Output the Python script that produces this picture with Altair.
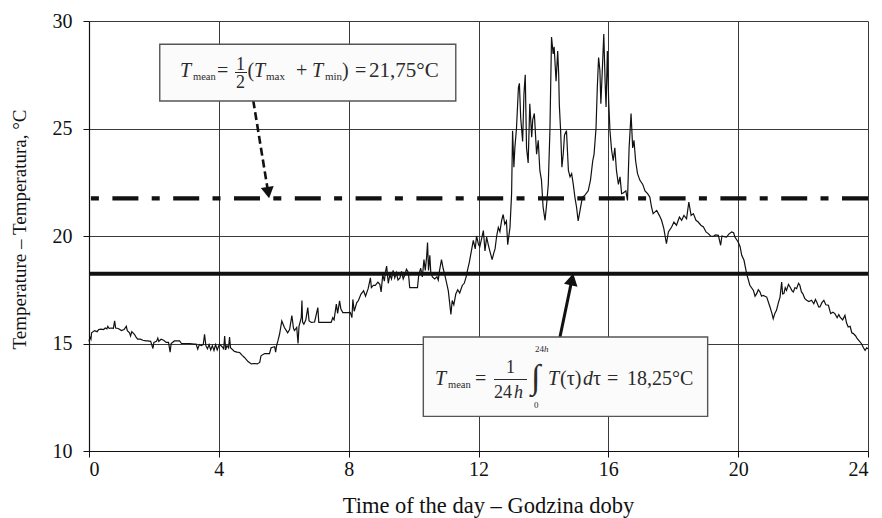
import altair as alt
import pandas as pd

# ---------------- data ----------------
hours = [
    0.00, 0.03, 0.06, 0.08, 0.17, 0.25, 0.30, 0.37, 0.45, 0.50, 0.55, 0.58, 0.62, 0.70, 0.75, 0.79, 0.82, 0.90,
    1.00, 1.08, 1.15, 1.18, 1.25, 1.28, 1.32, 1.40, 1.45, 1.50, 1.58, 1.66, 1.75, 1.81, 1.90, 1.97,
    2.00, 2.08, 2.12, 2.15, 2.22, 2.30, 2.38, 2.45, 2.50, 2.53, 2.63, 2.79, 2.85, 2.99,
    3.10, 3.25, 3.30, 3.35, 3.40, 3.46, 3.52, 3.56, 3.60, 3.65, 3.70, 3.75, 3.80, 3.85, 3.90, 3.95,
    4.02, 4.10, 4.15, 4.18, 4.21, 4.25, 4.30, 4.33, 4.36, 4.48, 4.56, 4.64, 4.72, 4.79, 4.90,
    5.00, 5.10, 5.18, 5.26, 5.30, 5.41, 5.56, 5.61, 5.72, 5.75, 5.78, 5.82, 5.87, 5.94,
    6.02, 6.08, 6.12, 6.18, 6.25, 6.30, 6.33, 6.40, 6.44, 6.47, 6.54, 6.56, 6.58, 6.62, 6.68, 6.74, 6.78, 6.85, 6.95,
    7.05, 7.08, 7.15, 7.30, 7.46, 7.51, 7.55, 7.62, 7.66, 7.72, 7.76, 7.82, 7.98,
    8.05, 8.10, 8.13, 8.17, 8.25, 8.30, 8.38, 8.46, 8.52, 8.60, 8.67, 8.70, 8.76, 8.82, 8.90, 8.96,
    9.00, 9.05, 9.10, 9.13, 9.17, 9.22, 9.27, 9.32, 9.37, 9.42, 9.47, 9.52, 9.58, 9.63, 9.68, 9.73, 9.78, 9.84, 9.88,
    10.00, 10.12, 10.16, 10.22, 10.27, 10.32, 10.36, 10.40, 10.43, 10.46, 10.50, 10.53, 10.58, 10.65, 10.72, 10.76,
    10.80, 10.86, 10.91, 10.96,
    11.02, 11.07, 11.11, 11.15, 11.19, 11.24, 11.30, 11.36, 11.42, 11.50, 11.56, 11.62, 11.66, 11.72, 11.78, 11.84,
    11.90, 11.94,
    12.00, 12.04, 12.10, 12.15, 12.20, 12.25, 12.30, 12.35, 12.42, 12.47, 12.51, 12.56, 12.61, 12.66, 12.71, 12.76,
    12.81, 12.86, 12.90, 12.97,
    13.02, 13.05, 13.09, 13.12, 13.17, 13.23, 13.26, 13.30, 13.36, 13.40, 13.44, 13.48, 13.53, 13.58, 13.64, 13.67,
    13.72, 13.79, 13.84, 13.89, 13.94, 13.99,
    14.05, 14.10, 14.15, 14.20, 14.25, 14.30, 14.33, 14.39, 14.44, 14.47, 14.49, 14.53, 14.57, 14.61, 14.65, 14.71,
    14.77, 14.82, 14.87, 14.92, 14.97,
    15.02, 15.07, 15.13, 15.20, 15.28, 15.38, 15.45, 15.52, 15.56, 15.62, 15.66, 15.70, 15.74, 15.77, 15.81, 15.86,
    15.90, 15.93, 15.97,
    16.01, 16.05, 16.10, 16.15, 16.20, 16.25, 16.31, 16.36, 16.41, 16.46, 16.54, 16.59, 16.64, 16.70, 16.75, 16.79,
    16.84, 16.90, 16.97,
    17.06, 17.13, 17.21, 17.28, 17.33, 17.38, 17.49, 17.57, 17.64, 17.71, 17.79, 17.85, 17.95,
    18.02, 18.10, 18.19, 18.26, 18.33, 18.41, 18.48, 18.55, 18.62, 18.70, 18.77, 18.85, 18.93,
    19.01, 19.08, 19.15, 19.23, 19.30, 19.39, 19.46, 19.50, 19.54, 19.64, 19.72, 19.80, 19.86, 19.90,
    20.00, 20.06, 20.11, 20.18, 20.26, 20.36, 20.47, 20.52, 20.57, 20.62, 20.67, 20.72, 20.77, 20.88, 20.98,
    21.04, 21.08, 21.13, 21.18, 21.24, 21.29, 21.34, 21.37, 21.41, 21.45, 21.49, 21.55, 21.60, 21.66, 21.70, 21.75,
    21.80, 21.86, 21.90, 21.95, 21.99,
    22.05, 22.11, 22.18, 22.26, 22.33, 22.38, 22.42, 22.48, 22.52, 22.58, 22.64, 22.70, 22.78, 22.85, 22.92, 22.98,
    23.05, 23.10, 23.14, 23.22, 23.29, 23.34, 23.39, 23.45, 23.50, 23.55, 23.62, 23.67, 23.74, 23.80, 23.86, 23.91,
    23.96, 24.00,
]
temps = [
    15.10, 15.30, 15.20, 15.50, 15.60, 15.55, 15.65, 15.67, 15.65, 15.72, 15.68, 15.80, 15.70, 15.72, 15.70, 16.05, 15.72, 15.70,
    15.60, 15.65, 15.80, 15.60, 15.50, 15.35, 15.55, 15.43, 15.30, 15.20, 15.20, 15.15, 15.12, 15.12, 15.10, 14.77,
    15.05, 15.10, 15.25, 15.10, 15.20, 15.15, 15.05, 15.05, 14.60, 15.00, 15.12, 15.12, 15.00, 15.00,
    15.00, 14.97, 14.97, 14.74, 14.95, 14.90, 14.95, 15.43, 14.90, 14.75, 14.95, 14.70, 14.90, 14.68, 14.95, 14.70,
    14.97, 14.85, 14.75, 15.35, 14.70, 14.90, 14.80, 15.30, 14.80, 14.63, 14.60, 14.58, 14.45, 14.35, 14.16,
    14.05, 14.07, 14.05, 14.12, 14.43, 14.53, 14.53, 14.80, 14.85, 14.60, 14.90, 15.12, 15.43, 16.05,
    15.74, 15.60, 15.50, 15.65, 16.30, 15.70, 15.60, 15.75, 15.00, 15.80, 16.20, 17.00, 16.00, 15.90, 16.10, 16.67, 16.05, 15.98, 16.00,
    16.67, 15.98, 15.98, 15.98, 15.98, 16.20, 16.10, 16.83, 16.40, 16.98, 16.60, 16.44, 16.44,
    16.45, 16.20, 17.05, 16.50, 16.90, 17.00, 17.30, 17.45, 17.20, 17.55, 18.05, 17.60, 17.70, 17.70, 17.85, 17.75,
    17.40, 18.20, 17.90, 18.30, 18.60, 17.80, 18.20, 18.00, 18.40, 18.05, 18.30, 17.95, 18.05, 18.35, 18.00, 18.20, 18.45, 18.30, 17.60,
    17.60, 17.60, 18.20, 18.50, 18.10, 18.90, 18.40, 19.00, 19.70, 18.40, 19.10, 18.30, 18.10, 18.00, 18.10, 17.95,
    18.40, 18.90, 18.50, 18.20,
    17.80, 17.45, 16.90, 16.35, 17.00, 16.80, 17.30, 17.50, 17.35, 17.70, 17.80, 18.10, 18.40, 18.80, 19.30, 19.80,
    19.40, 20.00,
    19.60, 19.50, 19.90, 20.25, 19.30, 19.95, 19.60, 19.30, 18.90, 19.20, 19.40, 20.00, 20.40, 20.20, 20.70, 21.00,
    20.55, 20.70, 19.60, 20.40,
    21.97, 24.90, 23.20, 24.10, 25.00, 26.90, 27.10, 25.50, 24.40, 26.60, 27.50, 24.10, 23.40, 26.15, 24.60, 25.40,
    25.70, 23.80, 24.45, 23.05, 22.60, 21.35,
    20.73, 21.50, 22.40, 24.90, 29.25, 28.47, 28.80, 27.20, 28.60, 27.55, 26.10, 24.90, 23.20, 23.80, 24.70, 24.90,
    23.05, 22.75, 22.90, 22.40, 21.80,
    21.35, 20.70, 21.20, 21.80, 21.90, 22.10, 22.60, 23.50, 23.80, 25.00, 26.90, 28.30, 27.70, 26.15, 27.55, 29.40,
    27.20, 26.00, 28.60,
    26.30, 24.90, 24.00, 23.50, 24.10, 23.05, 22.40, 22.75, 21.97, 22.00, 22.10, 21.65, 24.10, 25.70, 24.10, 24.45,
    23.50, 22.90, 22.60,
    22.40, 22.10, 21.97, 21.80, 21.35, 21.04, 21.19, 20.96, 20.73, 20.34, 19.64, 20.19, 20.42,
    20.65, 20.50, 20.88, 20.73, 20.96, 20.80, 21.58, 20.96, 21.04, 20.73, 20.65, 20.50, 20.42,
    20.19, 20.11, 20.00, 19.98, 20.05, 20.03, 19.57, 20.00, 19.98, 19.95, 20.10, 20.19, 20.15, 19.95,
    19.72, 19.50, 19.10, 18.87, 18.25, 17.71, 17.47, 17.20, 17.32, 17.50, 17.40, 17.20, 17.24, 17.16, 16.70,
    16.40, 16.15, 16.40, 16.54, 16.90, 17.16, 17.86, 17.30, 17.32, 17.60, 17.47, 17.75, 17.63, 17.45, 17.40, 17.60,
    17.55, 17.80, 17.71, 17.40, 17.32,
    17.10, 17.01, 16.95, 17.01, 16.85, 17.05, 16.93, 16.70, 16.70, 16.90, 17.01, 16.80, 16.78, 16.39, 16.45, 16.39,
    16.20, 16.35, 16.23, 16.10, 16.31, 15.95, 15.77, 15.80, 15.50, 15.46, 15.35, 15.22, 15.10, 14.99, 14.80, 14.68,
    14.80, 14.76,
]

t_mean_half = 21.75      # 1/2 (Tmax + Tmin)
t_mean_integral = 18.25  # time-averaged

x_ticks = [0, 4, 8, 12, 16, 20, 24]
y_ticks = [10, 15, 20, 25, 30]

# annotation geometry (data coordinates)
box1 = {"h": 2.18, "h2": 11.30, "t": 26.28, "t2": 28.92}
box2 = {"h": 10.30, "h2": 19.06, "t": 11.61, "t2": 15.30}
arrow1_h = [5.06, 5.52]
arrow1_t = [26.31, 22.02]
arrow2_h = [14.51, 14.88]
arrow2_t = [15.30, 17.98]

FONT = "Liberation Serif, Times New Roman, serif"
W, H = 779, 430
PAD_L, PAD_T = 89, 21

xs = alt.Scale(domain=[0, 24], nice=False, zero=False)
ys = alt.Scale(domain=[10, 30], nice=False, zero=False)

df = pd.DataFrame({"h": hours, "t": temps})

line = alt.Chart(df).mark_line(color="#111", strokeWidth=1.2, interpolate="linear").encode(
    x=alt.X("h:Q", scale=xs, axis=alt.Axis(
        values=x_ticks, title="Time of the day – Godzina doby", format="d",
        tickSize=6, labelPadding=2, titleFontSize=22.5,
        titleX=399, titleY=61, titleAlign="center", titleBaseline="alphabetic")),
    y=alt.Y("t:Q", scale=ys, axis=alt.Axis(
        values=y_ticks, title="Temperature – Temperatura, °C", format="d",
        tickSize=6, labelPadding=11, titleFontSize=19,
        titleX=-70, titleY=208, titleAngle=270, titleAlign="center", titleBaseline="middle")),
)

ref_half = alt.Chart(pd.DataFrame({"t": [t_mean_half]})).mark_rule(
    color="#111", strokeWidth=4.3, strokeDash=[26, 13.5, 8, 13.3]).encode(y=alt.Y("t:Q", scale=ys))
ref_int = alt.Chart(pd.DataFrame({"t": [t_mean_integral]})).mark_rule(
    color="#111", strokeWidth=4).encode(y=alt.Y("t:Q", scale=ys))

a1 = pd.DataFrame({"h": arrow1_h, "t": arrow1_t})
a2 = pd.DataFrame({"h": arrow2_h, "t": arrow2_t})
arrow1 = alt.Chart(a1).mark_line(color="#111", strokeWidth=2.6, strokeDash=[8, 4]).encode(
    x=alt.X("h:Q", scale=xs), y=alt.Y("t:Q", scale=ys))
arrow2 = alt.Chart(a2).mark_line(color="#111", strokeWidth=3).encode(
    x=alt.X("h:Q", scale=xs), y=alt.Y("t:Q", scale=ys))
head1 = alt.Chart(a1.tail(1)).mark_point(shape="triangle-up", filled=True, color="#111", opacity=1,
                                        size=170, angle=170.7).encode(
    x=alt.X("h:Q", scale=xs), y=alt.Y("t:Q", scale=ys))
head2 = alt.Chart(a2.tail(1)).mark_point(shape="triangle-up", filled=True, color="#111", opacity=1,
                                        size=190, angle=11.8).encode(
    x=alt.X("h:Q", scale=xs), y=alt.Y("t:Q", scale=ys))

boxes = alt.Chart(pd.DataFrame([box1, box2])).mark_rect(fill="#fbfbfb", stroke="#555", strokeWidth=1.4).encode(
    x=alt.X("h:Q", scale=xs), x2="h2:Q", y=alt.Y("t:Q", scale=ys), y2="t2:Q")

dummy = pd.DataFrame({"k": [0]})


def txt(s, px, py, size, italic=False, align="left"):
    return alt.Chart(dummy).mark_text(
        text=s, fontSize=size, fontStyle="italic" if italic else "normal", align=align,
        baseline="alphabetic", font=FONT, color="#2a2a2a").encode(
        x=alt.value(px - PAD_L), y=alt.value(py - PAD_T))


def bar(px1, px2, py):
    return alt.Chart(dummy).mark_rule(color="#2a2a2a", strokeWidth=1).encode(
        x=alt.value(px1 - PAD_L), x2=alt.value(px2 - PAD_L), y=alt.value(py - PAD_T))


f1 = [
    txt("T", 180, 77, 20, True),
    txt("mean", 193, 80, 10.5),
    txt("=", 217, 77, 20),
    txt("1", 240.5, 69.5, 18, align="center"),
    bar(235, 247, 72.5),
    txt("2", 240.5, 88, 18, align="center"),
    txt("(", 247.5, 77, 20),
    txt("T", 254, 77, 20, True),
    txt("max", 266, 80, 11),
    txt("+", 296, 77, 20),
    txt("T", 312, 77, 20, True),
    txt("min", 325, 80, 11),
    txt(")", 342, 77, 20),
    txt("=", 355, 77, 20),
    txt("21,75°C", 369, 77, 21),
]

f2 = [
    txt("T", 435, 385, 20, True),
    txt("mean", 448, 388, 10.5),
    txt("=", 475, 385, 20),
    txt("1", 510.5, 373, 18, align="center"),
    bar(494, 527, 379.5),
    txt("24", 494, 398, 18),
    txt("h", 514, 398, 18, True),
    txt("∫", 531, 388, 34),
    txt("24", 535, 352, 9),
    txt("h", 544, 352, 9, True),
    txt("0", 534, 408, 9),
    txt("T", 548, 385, 20, True),
    txt("(τ)", 560, 385, 20),
    txt("d", 583, 385, 20, True),
    txt("τ", 593, 385, 20),
    txt("=", 607, 385, 20),
    txt("18,25°C", 627, 385, 20),
]

chart = alt.layer(
    line, ref_half, ref_int, arrow1, arrow2, head1, head2, boxes, *f1, *f2
).properties(
    width=W, height=H,
    autosize=alt.AutoSizeParams(type="none"),
    padding={"left": PAD_L, "top": PAD_T, "right": 882 - PAD_L - W, "bottom": 518 - PAD_T - H},
    background="white",
).configure_view(stroke=None).configure_axis(
    grid=True, gridColor="#3a3a3a", gridWidth=1, domainColor="#111", domainWidth=1.2,
    tickColor="#111", tickWidth=1, labelFont=FONT, labelFontSize=20, labelColor="#111",
    titleFont=FONT, titleFontWeight="normal", titleColor="#111",
)

chart.save("out.html", embed_options={"renderer": "svg", "actions": False})
